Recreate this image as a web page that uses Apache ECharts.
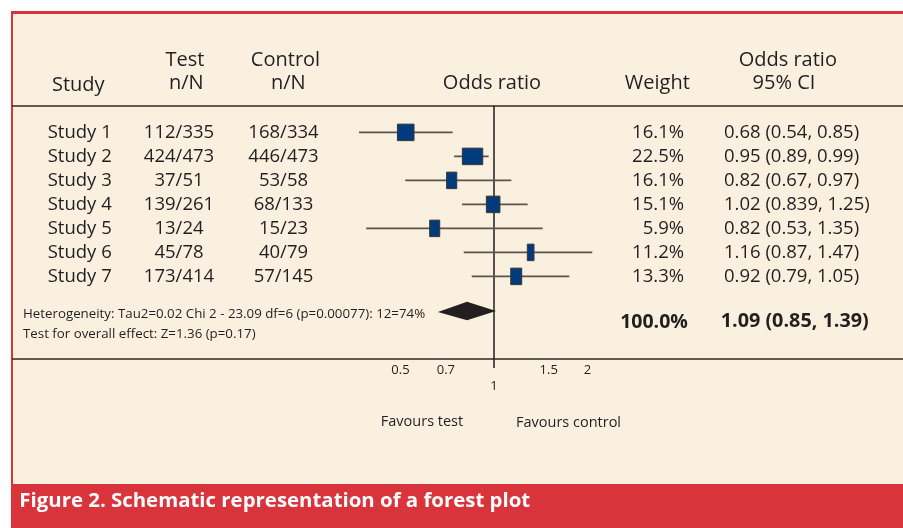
<!DOCTYPE html>
<html><head><meta charset="utf-8">
<script src="https://cdn.jsdelivr.net/npm/echarts@6/dist/echarts.min.js"></script>
<style>html,body{margin:0;padding:0;background:#fff}#c{width:903px;height:528px}</style>
</head><body><div id="c"></div>
<script>
// ---------- data ----------
const studies = ['Study 1','Study 2','Study 3','Study 4','Study 5','Study 6','Study 7'];
const testNN = ['112/335','424/473','37/51','139/261','13/24','45/78','173/414'];
const controlNN = ['168/334','446/473','53/58','68/133','15/23','40/79','57/145'];
const weights = ['16.1%','22.5%','16.1%','15.1%','5.9%','11.2%','13.3%'];
const orCI = ['0.68 (0.54, 0.85)','0.95 (0.89, 0.99)','0.82 (0.67, 0.97)','1.02 (0.839, 1.25)','0.82 (0.53, 1.35)','1.16 (0.87, 1.47)','0.92 (0.79, 1.05)'];
// positions on the odds-ratio axis as drawn in the (schematic) figure
const ciLow  = [0.368,0.744,0.518,0.789,0.388,0.799,0.848];
const ciHigh = [0.736,0.961,1.137,1.283,1.434,2.071,1.747];
const boxLow  = [0.489,0.791,0.704,0.945,0.621,1.280,1.132];
const boxHigh = [0.553,0.920,0.759,1.045,0.669,1.345,1.228];
const pooledDiamond = [0.660, 0.819, 1.015];
const pooledWeight = '100.0%';
const pooledCI = '1.09 (0.85, 1.39)';
const nullValue = [1];
const tickValues = [0.5, 0.7, 1, 1.5, 2];
const tickLabels = ['0.5','0.7','1','1.5','2'];
const heterogeneity = 'Heterogeneity: Tau2=0.02 Chi 2 - 23.09 df=6 (p=0.00077): 12=74%';
const overallEffect = 'Test for overall effect: Z=1.36 (p=0.17)';
const caption = 'Figure 2. Schematic representation of a forest plot';

// ---------- layout / style ----------
const FONT = '"Open Sans", "Noto Sans", sans-serif';
const TXT = '#231f20';
const CREAM = '#faf0df';
const RED = '#d9343b';
const PLOT_L = 340, PLOT_W = 280, CENTER = 494, K = 135;
const XMIN = Math.exp((PLOT_L - CENTER) / K);
const XMAX = Math.exp((PLOT_L + PLOT_W - CENTER) / K);
const ROW_H = 24.0, ROW0 = 132.4;
const SUMMARY_ROW = 7.44;

const chart = echarts.init(document.getElementById('c'));

function colAxis(data, position, offset, align) {
  return {
    type: 'category', gridIndex: 0, data: data, inverse: true, position: position, offset: offset,
    axisLine: {show: false}, axisTick: {show: false}, splitLine: {show: false},
    axisLabel: {interval: 0, hideOverlap: false, align: align, margin: 0, fontSize: 18.5, color: TXT, fontFamily: FONT}
  };
}

function txt(text, x, y, size, align, opts) {
  opts = opts || {};
  return {
    type: 'text', x: x, y: y, z: 5,
    style: {text: text, fill: opts.fill || TXT, fontSize: size, fontFamily: FONT,
      fontWeight: opts.bold ? 'bold' : 'normal', align: align, verticalAlign: 'middle'}
  };
}

const HS = 20;
const graphics = [
  {type: 'rect', z: -10, shape: {x: 11, y: 11, width: 900, height: 520}, style: {fill: RED}},
  {type: 'rect', z: -9, shape: {x: 13, y: 14, width: 900, height: 470}, style: {fill: CREAM}},
  {type: 'line', z: 1, shape: {x1: 12, y1: 106, x2: 903, y2: 106}, style: {stroke: '#2e2a26', lineWidth: 1.5}},
  {type: 'line', z: 1, shape: {x1: 12, y1: 359, x2: 903, y2: 359}, style: {stroke: '#2e2a26', lineWidth: 1.5}},
  txt('Study', 78.3, 85.5, HS, 'center'),
  txt('Test', 185, 60.2, HS, 'center'),
  txt('n/N', 186.3, 83.7, HS, 'center'),
  txt('Control', 285.5, 60.2, HS, 'center'),
  txt('n/N', 288.3, 83.7, HS, 'center'),
  txt('Odds ratio', 492, 83.2, HS, 'center'),
  txt('Weight', 657.3, 83.2, HS, 'center'),
  txt('Odds ratio', 787.8, 60.6, HS, 'center'),
  txt('95% CI', 784, 83.2, HS, 'center'),
  txt(heterogeneity, 23, 314, 13.3, 'left'),
  txt(overallEffect, 23, 334.5, 13.3, 'left'),
  txt(pooledWeight, 654, 322.7, 19.5, 'center', {bold: true}),
  txt(pooledCI, 720.7, 321.1, 19.8, 'left', {bold: true}),
  txt('Favours test', 422, 422, 14.5, 'center'),
  txt('Favours control', 568.5, 423, 14.5, 'center'),
  txt(caption, 19.3, 501.5, 20.4, 'left', {bold: true, fill: '#ffffff'})
];

const markerData = studies.map((s, i) => [ciLow[i], ciHigh[i], boxLow[i], boxHigh[i], i]);

chart.setOption({
  animation: false,
  backgroundColor: '#ffffff',
  textStyle: {fontFamily: FONT},
  graphic: {elements: graphics},
  grid: [
    {left: PLOT_L, top: ROW0 - ROW_H / 2, width: PLOT_W, height: ROW_H * 7},
    {left: PLOT_L, top: 106, width: PLOT_W, height: 262}
  ],
  xAxis: [
    {type: 'log', gridIndex: 0, min: XMIN, max: XMAX, show: false},
    {type: 'log', gridIndex: 1, min: XMIN, max: XMAX, show: false}
  ],
  yAxis: [
    {type: 'value', gridIndex: 0, min: -0.5, max: 6.5, inverse: true, show: false},
    colAxis(studies, 'left', PLOT_L - 47.7, 'left'),
    colAxis(testNN, 'left', PLOT_L - 179, 'center'),
    colAxis(controlNN, 'left', PLOT_L - 283.5, 'center'),
    colAxis(weights, 'right', 684 - (PLOT_L + PLOT_W), 'right'),
    colAxis(orCI, 'right', 724 - (PLOT_L + PLOT_W), 'left'),
    {type: 'value', gridIndex: 1, min: 0, max: 1, show: false}
  ],
  series: [
    { // null line at OR = 1
      type: 'custom', xAxisIndex: 1, yAxisIndex: 6, data: nullValue.map(v => [v]),
      encode: {x: 0},
      renderItem: function (params, api) {
        const a = api.coord([api.value(0), 1]);
        const b = api.coord([api.value(0), 0]);
        return {type: 'line', shape: {x1: a[0], y1: a[1], x2: b[0], y2: b[1]},
          style: {stroke: '#231f20', lineWidth: 1.5}};
      }
    },
    { // tick labels
      type: 'custom', xAxisIndex: 1, yAxisIndex: 6, data: tickValues.map((v, i) => [v, 0, i]),
      encode: {x: 0, y: 1},
      renderItem: function (params, api) {
        const p = api.coord([api.value(0), api.value(1)]);
        const i = api.value(2);
        const drop = api.value(0) === 1 ? 18.3 : 1.8;
        return {type: 'text', x: p[0], y: p[1] + drop,
          style: {text: tickLabels[i], fill: TXT, fontSize: 13, fontFamily: FONT,
            align: 'center', verticalAlign: 'middle'}};
      }
    },
    { // study CIs and boxes
      type: 'custom', xAxisIndex: 0, yAxisIndex: 0, data: markerData,
      encode: {x: [0, 1, 2, 3], y: 4},
      renderItem: function (params, api) {
        const y = api.value(4);
        const l = api.coord([api.value(0), y]);
        const h = api.coord([api.value(1), y]);
        const bl = api.coord([api.value(2), y]);
        const bh = api.coord([api.value(3), y]);
        const bhgt = 16.5;
        return {type: 'group', children: [
          {type: 'line', shape: {x1: l[0], y1: l[1], x2: h[0], y2: h[1]},
            style: {stroke: '#5a544c', lineWidth: 1.6}},
          {type: 'rect', shape: {x: bl[0], y: bl[1] - bhgt / 2, width: bh[0] - bl[0], height: bhgt},
            style: {fill: '#023a7e', stroke: '#3b362e', lineWidth: 1}}
        ]};
      }
    },
    { // pooled diamond
      type: 'custom', xAxisIndex: 0, yAxisIndex: 0, clip: false,
      data: [[pooledDiamond[0], pooledDiamond[1], pooledDiamond[2], SUMMARY_ROW]],
      encode: {x: [0, 1, 2], y: 3},
      renderItem: function (params, api) {
        const y = api.value(3);
        const l = api.coord([api.value(0), y]);
        const m = api.coord([api.value(1), y]);
        const r = api.coord([api.value(2), y]);
        const hh = 9.3;
        return {type: 'polygon', shape: {points: [[l[0], l[1] + 1], [m[0], m[1] - hh], [r[0], r[1]], [m[0], m[1] + hh]]},
          style: {fill: '#231f20'}};
      }
    }
  ]
});
</script>
</body></html>
